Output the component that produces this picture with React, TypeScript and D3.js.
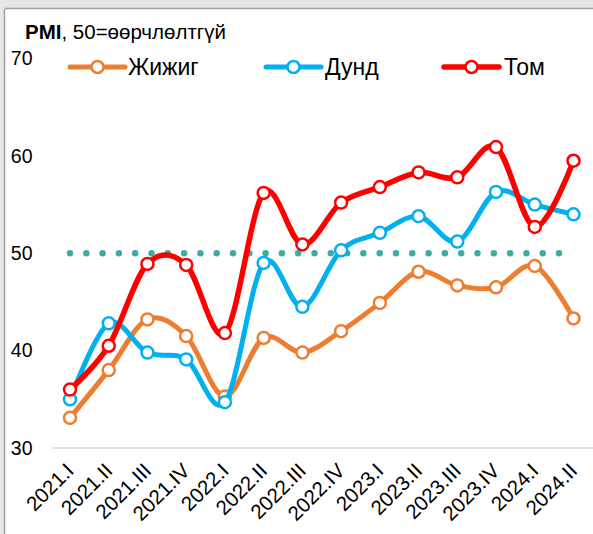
import React from "react";
import * as d3 from "d3";

const categories = [
  "2021.I", "2021.II", "2021.III", "2021.IV",
  "2022.I", "2022.II", "2022.III", "2022.IV",
  "2023.I", "2023.II", "2023.III", "2023.IV",
  "2024.I", "2024.II",
];

const small = [33.1, 38.0, 43.2, 41.5, 35.3, 41.3, 39.8, 42.0, 44.9, 48.1, 46.7, 46.5, 48.7, 43.3];
const medium = [35.0, 42.8, 39.8, 39.1, 34.7, 49.0, 44.5, 50.3, 52.1, 53.8, 51.2, 56.3, 55.0, 54.0];
const large = [36.0, 40.5, 48.9, 48.8, 41.8, 56.2, 50.9, 55.2, 56.8, 58.3, 57.8, 60.9, 52.7, 59.5];

const yTicks = [30, 40, 50, 60, 70];
const neutral = 50;

const width = 593;
const height = 534;
const font = "Arial, 'Liberation Sans', sans-serif";

const x = d3.scalePoint<string>().domain(categories).range([70, 573.5]);
const y = d3.scaleLinear().domain([30, 70]).range([448, 58.5]);

const series = [
  { name: "Жижиг", values: small, color: "#ED7D31", width: 5, legendX: 70, textX: 128 },
  { name: "Дунд", values: medium, color: "#00B0F0", width: 5, legendX: 266, textX: 325 },
  { name: "Том", values: large, color: "#FF0000", width: 5.5, legendX: 444, textX: 504 },
];

const line = d3
  .line<number>()
  .x((_, i) => x(categories[i]) as number)
  .y((d) => y(d))
  .curve(d3.curveCardinal.tension(0));

const App = () => {
  const x0 = x(categories[0]) as number;
  const x1 = x(categories[categories.length - 1]) as number;
  return (
    <svg
      width={width}
      height={height}
      style={{ position: "absolute", left: 0, top: 0, fontFamily: font }}
    >
      <rect x={0} y={0} width={width} height={height} fill="#E6E6E6" />
      <rect x={5} y={9} width={width - 5} height={height - 9} fill="#fff" />
      <line x1={5} y1={8.5} x2={width} y2={8.5} stroke="#A0A0A0" strokeWidth={1.5} />
      <line x1={4.5} y1={9} x2={4.5} y2={height} stroke="#A0A0A0" strokeWidth={1.5} />

      {/* title */}
      <text x={25} y={39} fontSize={20.5} fill="#000">
        <tspan fontWeight="bold">PMI</tspan>
        <tspan>, 50=өөрчлөлтгүй</tspan>
      </text>

      {/* baseline */}
      <line x1={52} x2={width} y1={y(30)} y2={y(30)} stroke="#D9D9D9" strokeWidth={1.5} />

      {yTicks.map((t) => (
        <text key={t} x={32.5} y={y(t)} dy="0.35em" textAnchor="end" fontSize={19.5} fill="#000">
          {t}
        </text>
      ))}

      {categories.map((c) => (
        <text
          key={c}
          transform={`translate(${(x(c) as number) + 5}, 472) rotate(-45)`}
          textAnchor="end"
          fontSize={20.5}
          fill="#000"
        >
          {c}
        </text>
      ))}

      {/* 50 = no change */}
      <line
        x1={x0}
        x2={x1}
        y1={y(neutral)}
        y2={y(neutral)}
        stroke="#3BAEA0"
        strokeWidth={6.5}
        strokeLinecap="round"
        strokeDasharray="0 16.3"
      />

      {series.map((s) => (
        <g key={s.name}>
          <path d={line(s.values) || ""} fill="none" stroke={s.color} strokeWidth={s.width} strokeLinejoin="round" />
          {s.values.map((v, i) => (
            <circle
              key={i}
              cx={x(categories[i]) as number}
              cy={y(v)}
              r={6}
              fill="#fff"
              stroke={s.color}
              strokeWidth={2.5}
            />
          ))}
        </g>
      ))}

      {/* legend */}
      {series.map((s) => (
        <g key={s.name}>
          <line x1={s.legendX} x2={s.legendX + 55} y1={67} y2={67} stroke={s.color} strokeWidth={s.width} strokeLinecap="round" />
          <circle cx={s.legendX + 27.5} cy={67} r={6} fill="#fff" stroke={s.color} strokeWidth={2.5} />
          <text x={s.textX} y={67} dy="0.35em" fontSize={23} fill="#000">
            {s.name}
          </text>
        </g>
      ))}
    </svg>
  );
};

export default App;
